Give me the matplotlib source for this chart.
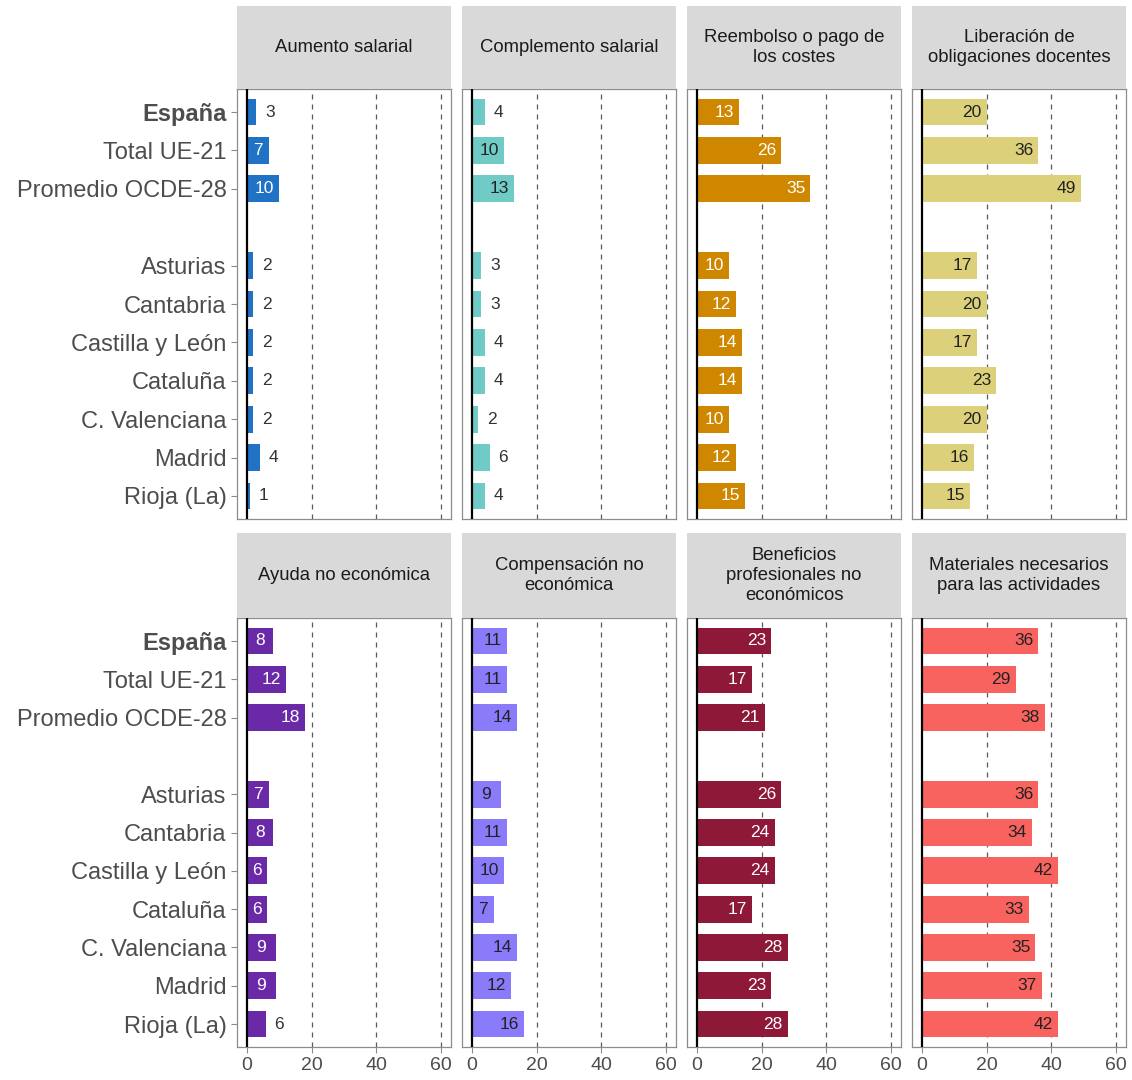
import matplotlib
matplotlib.use("Agg")
import matplotlib.pyplot as plt

plt.rcParams['font.family'] = ['Liberation Sans', 'DejaVu Sans']

# filas: 3 agregados + hueco + 7 comunidades
groups = ["España", "Total UE-21", "Promedio OCDE-28"]
regions = ["Asturias", "Cantabria", "Castilla y León", "Cataluña",
           "C. Valenciana", "Madrid", "Rioja (La)"]

titles = ["Aumento salarial", "Complemento salarial",
          "Reembolso o pago de\nlos costes", "Liberación de\nobligaciones docentes",
          "Ayuda no económica", "Compensación no\neconómica",
          "Beneficios\nprofesionales no\neconómicos",
          "Materiales necesarios\npara las actividades"]

aumento = [3, 7, 10, 2, 2, 2, 2, 2, 4, 1]
complemento = [4, 10, 13, 3, 3, 4, 4, 2, 5.6, 4]
reembolso = [13, 26, 35, 10, 12, 14, 14, 10, 12, 15]
liberacion = [20, 36, 49, 17, 20, 17, 23, 20, 16, 15]
ayuda = [8, 12, 18, 7, 8, 6.3, 6.2, 9, 9, 5.9]
compensacion = [11, 11, 14, 9, 11, 10, 7, 14, 12, 16]
beneficios = [23, 17, 21, 26, 24, 24, 17, 28, 23, 28]
materiales = [36, 29, 38, 36, 34, 42, 33, 35, 37, 42]

series = [aumento, complemento, reembolso, liberacion,
          ayuda, compensacion, beneficios, materiales]
colors = ['#1F72C4', '#70CBC6', '#CF8700', '#DCD17A',
          '#6A2AA8', '#8A7BFA', '#8E1838', '#F9635F']
txt_in = ['white', '#222222', 'white', '#222222',
          'white', '#222222', 'white', '#222222']

labels = groups + regions
ypos = list(range(len(groups))) + list(range(len(groups) + 1, len(groups) + 1 + len(regions)))

W, H = 1132, 1080
fig = plt.figure(figsize=(W / 100, H / 100), dpi=100)

col_x = [237, 462, 687, 912]
pw = 214
rows = [(89, 519, 6), (618, 1047, 533)]  # panel top, panel bottom, strip top

for i, (vals, title) in enumerate(zip(series, titles)):
    r, c = divmod(i, 4)
    ptop, pbot, stop = rows[r]
    ax = fig.add_axes([col_x[c] / W, 1 - pbot / H, pw / W, (pbot - ptop) / H])
    sx = fig.add_axes([col_x[c] / W, 1 - ptop / H, pw / W, (ptop - stop) / H])

    # strip
    sx.set_facecolor('#D9D9D9')
    sx.set_xticks([])
    sx.set_yticks([])
    for s in sx.spines.values():
        s.set_visible(False)
    sx.text(0.5, 0.5, title, ha='center', va='center', fontsize=13.3,
            color='#1A1A1A', transform=sx.transAxes)

    # grid
    for g in [20, 40, 60]:
        ax.axvline(g, color='#5A5A5A', lw=0.9, ls=(0, (4, 4)), zorder=0)
    ax.barh(ypos, vals, height=0.7, color=colors[i], zorder=2)
    ax.axvline(0, color='black', lw=1.6, zorder=3)

    for y, v in zip(ypos, vals):
        lab = str(int(round(v)))
        if v >= 6:
            x = v / 2 if v < 10 else v - 4.5
            ax.text(x, y, lab, ha='center', va='center', fontsize=12.5,
                    color=txt_in[i], zorder=4)
        else:
            ax.text(v + 2.6, y, lab, ha='left', va='center', fontsize=12.5,
                    color='#333333', zorder=4)

    ax.set_xlim(-3, 63)
    ax.set_ylim(10.6, -0.6)
    ax.set_xticks([0, 20, 40, 60])
    ax.set_yticks(ypos)
    for s in ax.spines.values():
        s.set_color('#8C8C8C')
        s.set_linewidth(0.9)
    ax.tick_params(colors='#8C8C8C', length=4, width=0.8, labelcolor='#4D4D4D',
                   labelsize=17)
    if c == 0:
        ax.set_yticklabels(labels)
        ax.get_yticklabels()[0].set_fontweight('bold')
    else:
        ax.set_yticklabels([])
        ax.tick_params(axis='y', length=0)
    if r == 1:
        ax.set_xticklabels(['0', '20', '40', '60'], fontsize=14)
    else:
        ax.set_xticklabels([])
        ax.tick_params(axis='x', length=0)

fig.savefig('out.png', dpi=100)
